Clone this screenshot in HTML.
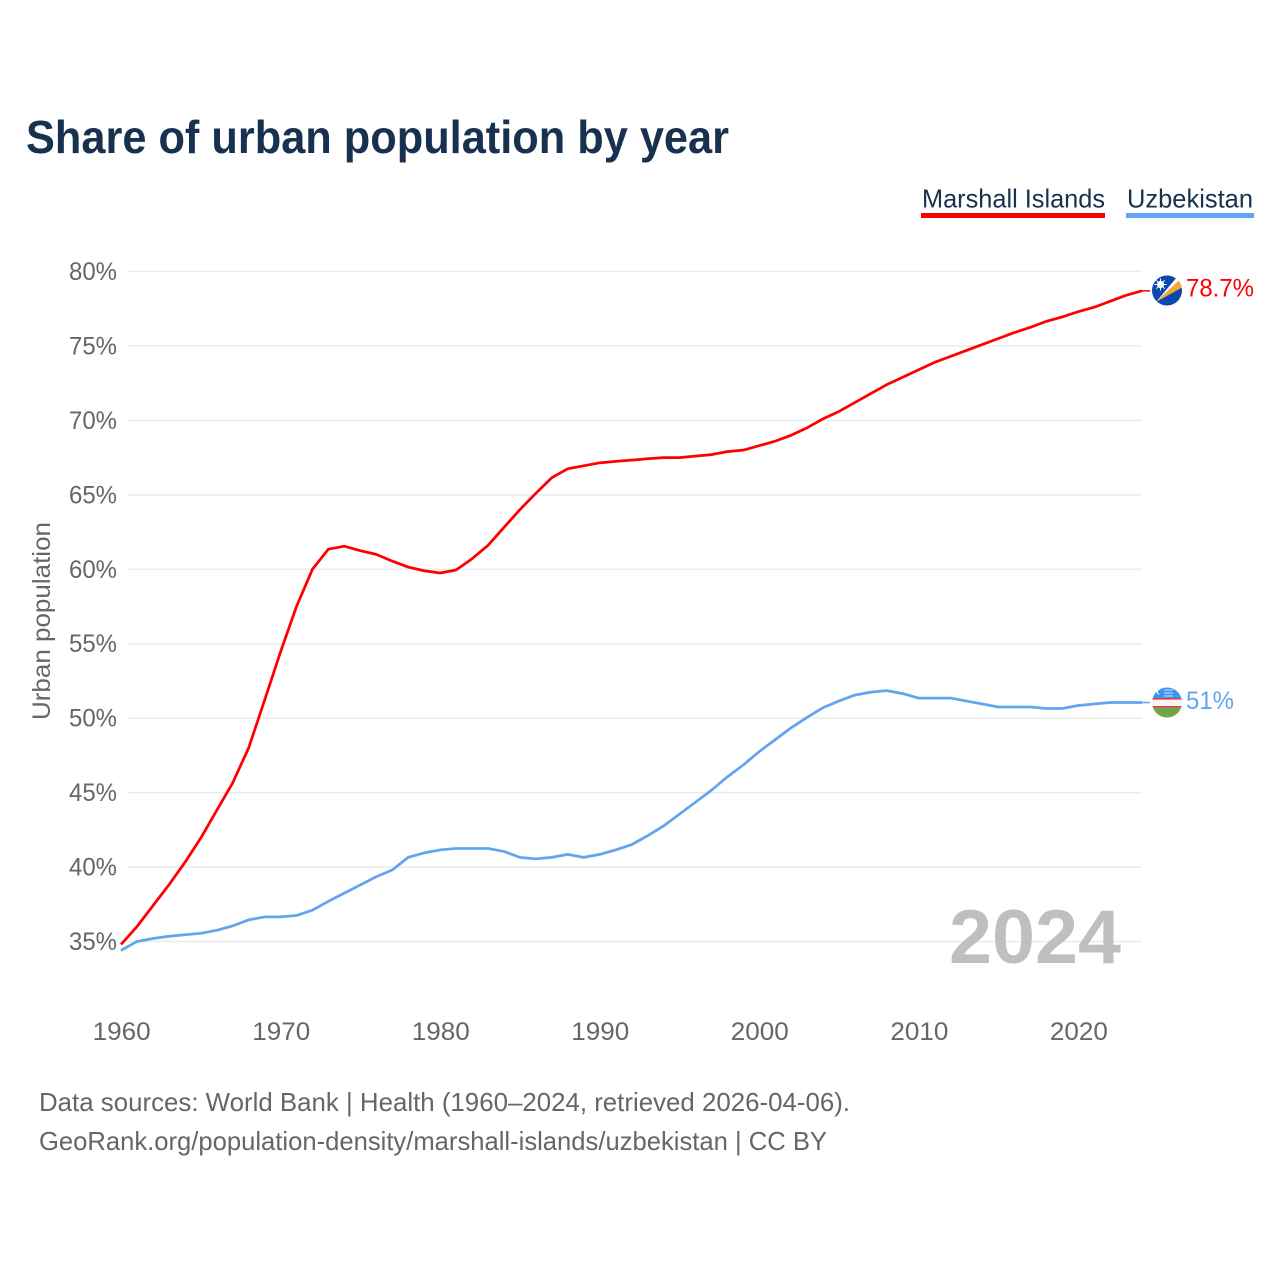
<!DOCTYPE html>
<html lang="en">
<head>
<meta charset="utf-8">
<title>Share of urban population by year</title>
<style>
html,body{margin:0;padding:0;background:#fff;width:1280px;height:1280px;overflow:hidden}
svg{display:block;font-family:"Liberation Sans",sans-serif}
</style>
</head>
<body>
<svg id="chart" width="1280" height="1280" viewBox="0 0 1280 1280" xmlns="http://www.w3.org/2000/svg">
  <defs>
    <clipPath id="flag-clip-mh"><circle cx="1167" cy="290.5" r="15"/></clipPath>
    <clipPath id="flag-clip-uz"><circle cx="1167" cy="702.5" r="15"/></clipPath>
  </defs>
  <text x="26" y="153" font-size="46" font-weight="700" fill="#17314f" textLength="703" lengthAdjust="spacingAndGlyphs">Share of urban population by year</text>

  <g>
    <g>
      <text x="922" y="207.5" font-size="26" fill="#17314f" textLength="183" lengthAdjust="spacingAndGlyphs">Marshall Islands</text>
      <rect x="921" y="213" width="184" height="5" fill="#ff0000"/>
    </g>
    <g>
      <text x="1127" y="207.5" font-size="26" fill="#17314f" textLength="126" lengthAdjust="spacingAndGlyphs">Uzbekistan</text>
      <rect x="1126" y="213" width="128" height="5" fill="#62a5ee"/>
    </g>
  </g>

  <g id="grid"></g>
  <g id="y-ticks"></g>
  <g id="x-ticks"></g>
  <text transform="translate(50,621) rotate(-90)" text-anchor="middle" font-size="25" fill="#666" textLength="198" lengthAdjust="spacingAndGlyphs">Urban population</text>

  <text x="1121" y="963" text-anchor="end" font-size="76" font-weight="700" fill="#bfbfbf" textLength="172" lengthAdjust="spacingAndGlyphs">2024</text>

  <g id="series"></g>

  <g clip-path="url(#flag-clip-mh)">
    <rect x="1152" y="275" width="30" height="31" fill="#0b49ad"/>
    <polygon points="1156,302 1180,279.5 1183,287" fill="#f7a833"/>
    <polygon points="1156,302 1177,277 1180,279.5" fill="#ffffff"/>
    <circle cx="1160.5" cy="284.5" r="3.6" fill="#fff"/>
    <path d="M1160.5 278.5v12M1154.5 284.5h12M1156.3 280.3l8.4 8.4M1164.7 280.3l-8.4 8.4" stroke="#fff" stroke-width="1"/>
  </g>
  <g clip-path="url(#flag-clip-uz)">
    <rect x="1152" y="687" width="30" height="11" fill="#3f94f0"/>
    <rect x="1152" y="699" width="30" height="8" fill="#fbf3f3"/>
    <rect x="1152" y="698" width="30" height="1.6" fill="#d8404d"/>
    <rect x="1152" y="706" width="30" height="1.6" fill="#d8404d"/>
    <rect x="1152" y="707.6" width="30" height="11" fill="#6fa544"/>
    <circle cx="1159" cy="692" r="2.4" fill="#fff"/>
    <circle cx="1160" cy="692" r="2.1" fill="#3f94f0"/>
    <path d="M1164 690h9M1164 693h9M1164 696h9" stroke="#cfe3fb" stroke-width="1"/>
  </g>
  <text id="end-mh" x="1186" y="296.5" font-size="25" fill="#ff0000" textLength="68" lengthAdjust="spacingAndGlyphs"></text>
  <text id="end-uz" x="1186" y="709" font-size="25" fill="#62a5ee" textLength="48" lengthAdjust="spacingAndGlyphs"></text>

  <text x="39" y="1111" font-size="26" fill="#666" textLength="811" lengthAdjust="spacingAndGlyphs">Data sources: World Bank | Health (1960–2024, retrieved 2026-04-06).</text>
  <text x="39" y="1150" font-size="26" fill="#666" textLength="788" lengthAdjust="spacingAndGlyphs">GeoRank.org/population-density/marshall-islands/uzbekistan | CC BY</text>
</svg>
<script>
const startYear = 1960;
const yTickValues = [35, 40, 45, 50, 55, 60, 65, 70, 75, 80];
const xTickValues = [1960, 1970, 1980, 1990, 2000, 2010, 2020];
const marshallIslands = [34.8,36.0,37.4,38.8,40.3,41.95,43.8,45.65,48.0,51.2,54.45,57.5,60.0,61.35,61.55,61.25,61.0,60.55,60.15,59.9,59.75,59.95,60.7,61.6,62.8,64.0,65.1,66.15,66.75,66.95,67.15,67.25,67.33,67.42,67.5,67.5,67.6,67.7,67.9,68.0,68.3,68.6,69.0,69.5,70.1,70.6,71.2,71.8,72.4,72.9,73.4,73.9,74.3,74.7,75.1,75.5,75.9,76.25,76.65,76.95,77.3,77.6,78.0,78.4,78.7];
const uzbekistan = [34.4,35.0,35.2,35.35,35.45,35.55,35.75,36.05,36.45,36.65,36.65,36.75,37.1,37.7,38.25,38.8,39.35,39.8,40.65,40.95,41.15,41.25,41.25,41.25,41.05,40.65,40.55,40.65,40.85,40.65,40.85,41.15,41.5,42.1,42.75,43.55,44.35,45.15,46.05,46.85,47.75,48.55,49.35,50.05,50.7,51.15,51.55,51.75,51.85,51.65,51.35,51.35,51.35,51.15,50.95,50.75,50.75,50.75,50.65,50.65,50.85,50.95,51.05,51.05,51.05];
const endLabelMarshall = "78.7%";
const endLabelUzbekistan = "51%";

const NS = "http://www.w3.org/2000/svg";
function xScale(year) { return 121 + (year - startYear) * (1142 - 121) / 64; }
function yScale(value) { return 271.5 + (80 - value) * (941.5 - 271.5) / 45; }

const grid = document.getElementById("grid");
const yTicks = document.getElementById("y-ticks");
const xTicks = document.getElementById("x-ticks");
const seriesGroup = document.getElementById("series");

yTickValues.forEach(function (v) {
  const line = document.createElementNS(NS, "line");
  line.setAttribute("x1", 128);
  line.setAttribute("x2", 1142);
  line.setAttribute("y1", yScale(v));
  line.setAttribute("y2", yScale(v));
  line.setAttribute("stroke", "#ebebeb");
  line.setAttribute("stroke-width", "1.5");
  
  
  grid.appendChild(line);

  const label = document.createElementNS(NS, "text");
  label.setAttribute("x", 117);
  label.setAttribute("y", yScale(v) + 8.5);
  label.setAttribute("text-anchor", "end");
  label.setAttribute("font-size", "25");
  label.setAttribute("fill", "#666");
  label.setAttribute("textLength", "48");
  label.setAttribute("lengthAdjust", "spacingAndGlyphs");
  label.textContent = v + "%";
  
  
  yTicks.appendChild(label);
});

xTickValues.forEach(function (year) {
  const label = document.createElementNS(NS, "text");
  label.setAttribute("x", xScale(year) + 0.7);
  label.setAttribute("y", 1040);
  label.setAttribute("text-anchor", "middle");
  label.setAttribute("font-size", "25");
  label.setAttribute("fill", "#666");
  label.setAttribute("textLength", "58");
  label.setAttribute("lengthAdjust", "spacingAndGlyphs");
  label.textContent = year;
  
  
  xTicks.appendChild(label);
});

function linePoints(values) {
  return values.map(function (v, i) {
    return xScale(startYear + i).toFixed(2) + "," + yScale(v).toFixed(2);
  }).join(" ");
}

const uzLine = document.createElementNS(NS, "polyline");
uzLine.setAttribute("points", linePoints(uzbekistan));
uzLine.setAttribute("fill", "none");
uzLine.setAttribute("stroke", "#62a5ee");
uzLine.setAttribute("stroke-width", "2.75");
uzLine.setAttribute("stroke-linejoin", "round");


seriesGroup.appendChild(uzLine);

const mhLine = document.createElementNS(NS, "polyline");
mhLine.setAttribute("points", linePoints(marshallIslands));
mhLine.setAttribute("fill", "none");
mhLine.setAttribute("stroke", "#ff0000");
mhLine.setAttribute("stroke-width", "2.75");
mhLine.setAttribute("stroke-linejoin", "round");


seriesGroup.appendChild(mhLine);

const uzLast = uzbekistan[uzbekistan.length - 1];
const uzConnector = document.createElementNS(NS, "line");
uzConnector.setAttribute("x1", xScale(2024));
uzConnector.setAttribute("x2", 1150);
uzConnector.setAttribute("y1", yScale(uzLast));
uzConnector.setAttribute("y2", yScale(uzLast));
uzConnector.setAttribute("stroke", "#62a5ee");
uzConnector.setAttribute("stroke-width", "1.5");


seriesGroup.appendChild(uzConnector);

const mhLast = marshallIslands[marshallIslands.length - 1];
const mhConnector = document.createElementNS(NS, "line");
mhConnector.setAttribute("x1", xScale(2024));
mhConnector.setAttribute("x2", 1150);
mhConnector.setAttribute("y1", yScale(mhLast));
mhConnector.setAttribute("y2", yScale(mhLast));
mhConnector.setAttribute("stroke", "#ff0000");
mhConnector.setAttribute("stroke-width", "1.5");


seriesGroup.appendChild(mhConnector);

document.getElementById("end-mh").textContent = endLabelMarshall;
document.getElementById("end-uz").textContent = endLabelUzbekistan;
</script>
</body>
</html>
